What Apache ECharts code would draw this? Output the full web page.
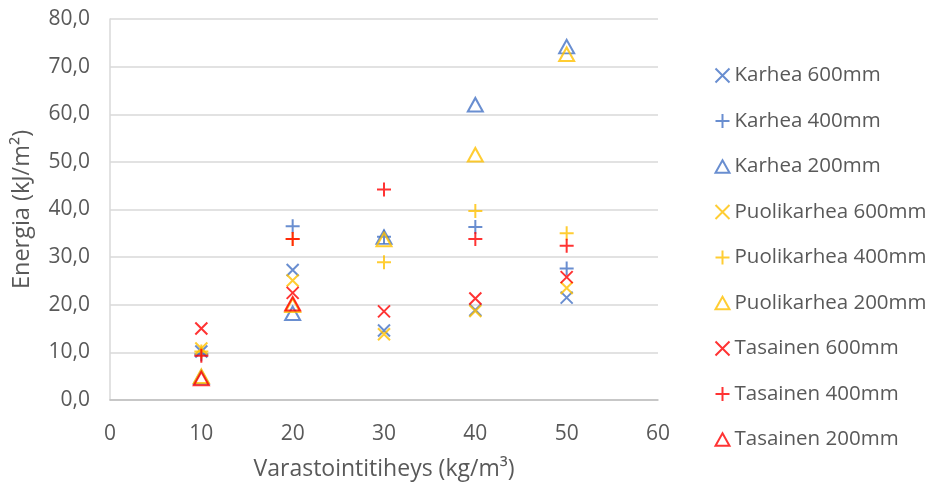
<!DOCTYPE html>
<html>
<head>
<meta charset="utf-8">
<script src="https://cdn.jsdelivr.net/npm/echarts@6/dist/echarts.min.js"></script>
<style>
  html, body { margin: 0; padding: 0; background: #ffffff; }
  #chart { width: 933px; height: 486px; }
</style>
</head>
<body>
<div id="chart"></div>
<script>
// Storage density (kg/m3) on the x axis
const densities = [10, 20, 30, 40, 50];

// Energy (kJ/m2) per surface type and height
const karhea600 = [10.2, 27.3, 14.6, 18.9, 21.5];
const karhea400 = [9.6, 36.5, 34.3, 36.3, 27.6];
const karhea200 = [4.8, 18.2, 34.2, 62.0, 74.2];
const puolikarhea600 = [10.8, 25.1, 13.8, 18.7, 23.5];
const puolikarhea400 = [10.2, 33.8, 28.9, 39.7, 35.0];
const puolikarhea200 = [5.0, 19.9, 33.7, 51.5, 72.6];
const tasainen600 = [15.0, 22.5, 18.6, 21.3, 25.8];
const tasainen400 = [9.3, 33.8, 44.2, 33.8, 32.4];
const tasainen200 = [4.5, 20.2, null, null, null];

const seriesNames = [
  'Karhea 600mm', 'Karhea 400mm', 'Karhea 200mm',
  'Puolikarhea 600mm', 'Puolikarhea 400mm', 'Puolikarhea 200mm',
  'Tasainen 600mm', 'Tasainen 400mm', 'Tasainen 200mm'
];
const seriesValues = [
  karhea600, karhea400, karhea200,
  puolikarhea600, puolikarhea400, puolikarhea200,
  tasainen600, tasainen400, tasainen200
];

const yTicks = [0, 10, 20, 30, 40, 50, 60, 70, 80];
const xTicks = [0, 10, 20, 30, 40, 50, 60];

const BLUE = '#4472C4', YELLOW = '#FFC000', RED = '#FF0000';
const colors = [BLUE, BLUE, BLUE, YELLOW, YELLOW, YELLOW, RED, RED, RED];

// Outline marker shapes: cross, plus, open triangle
const CROSS = 'path://M0,0L10,10M10,0L0,10';
const PLUS = 'path://M5,0L5,10M0,5L10,5';
const TRI = 'path://M5,0L10,9L0,9Z';
const shapes = [CROSS, PLUS, TRI];
const sizes = [[12, 12], [14, 14], [15, 13.5]];

const TEXT = '#595959';
const FONT = 'Open Sans';

const series = seriesNames.map((name, i) => ({
  name: name,
  type: 'scatter',
  symbol: shapes[i % 3],
  symbolSize: sizes[i % 3],
  symbolKeepAspect: false,
  itemStyle: {
    color: 'none',
    borderColor: colors[i],
    borderWidth: 2
  },
  emphasis: { disabled: true },
  data: densities.map((x, k) => seriesValues[i][k] == null ? null : [x, seriesValues[i][k]]).filter(d => d)
}));

const chart = echarts.init(document.getElementById('chart'), null, { renderer: 'canvas' });
chart.setOption({
  animation: false,
  backgroundColor: '#ffffff',
  textStyle: { fontFamily: FONT },
  grid: { left: 110, right: 275, top: 19, bottom: 86, containLabel: false },
  xAxis: {
    type: 'value',
    min: xTicks[0],
    max: xTicks[xTicks.length - 1],
    interval: 10,
    name: 'Varastointitiheys (kg/m³)',
    nameLocation: 'middle',
    nameGap: 58,
    nameTextStyle: { color: TEXT, fontSize: 23, fontFamily: FONT },
    axisLine: { show: true, lineStyle: { color: '#bfbfbf', width: 1.5 } },
    axisTick: { show: false },
    splitLine: { show: false },
    axisLabel: { color: TEXT, fontSize: 21, margin: 24, fontFamily: FONT }
  },
  yAxis: {
    type: 'value',
    min: yTicks[0],
    max: yTicks[yTicks.length - 1],
    interval: 10,
    name: 'Energia (kJ/m²)',
    nameLocation: 'middle',
    nameGap: 76,
    nameTextStyle: { color: TEXT, fontSize: 23.5, fontFamily: FONT },
    axisLine: { show: true, lineStyle: { color: '#d9d9d9', width: 1.5 } },
    axisTick: { show: false },
    splitLine: { show: true, lineStyle: { color: '#d9d9d9', width: 1.5 } },
    axisLabel: {
      color: TEXT, fontSize: 21, margin: 20, fontFamily: FONT,
      formatter: v => v.toFixed(1).replace('.', ',')
    }
  },
  legend: {
    orient: 'vertical',
    left: 713,
    top: 65,
    padding: 0,
    itemWidth: 14,
    itemHeight: 14,
    itemGap: 24.5,
    textStyle: { color: TEXT, fontSize: 20.5, fontFamily: FONT },
    data: seriesNames
  },
  series: series
});
</script>
</body>
</html>
